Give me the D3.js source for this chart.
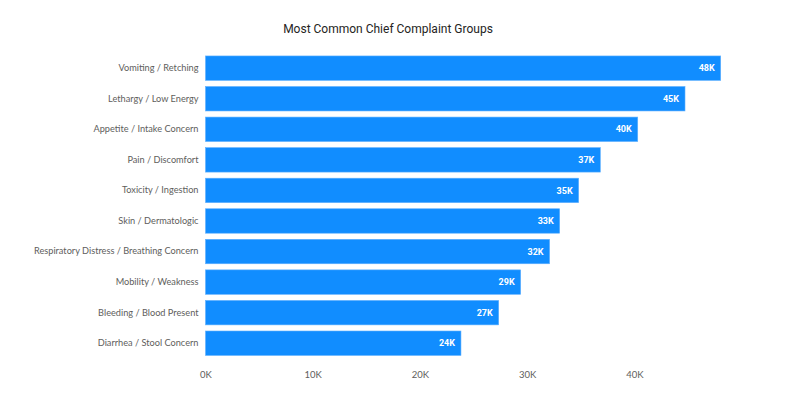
<!DOCTYPE html>
<html><head><meta charset="utf-8">
<script src="https://cdn.jsdelivr.net/npm/d3@7"></script>
<style>body{margin:0;background:#fff}svg{display:block}</style>
</head><body>
<svg id="c" width="796" height="410"></svg>
<script>
const categories = ["Vomiting / Retching","Lethargy / Low Energy","Appetite / Intake Concern","Pain / Discomfort","Toxicity / Ingestion","Skin / Dermatologic","Respiratory Distress / Breathing Concern","Mobility / Weakness","Bleeding / Blood Present","Diarrhea / Stool Concern"];
const values = [48060,44730,40320,36830,34810,33040,32100,29400,27350,23830];
const tickValues = [0,10000,20000,30000,40000];
const title = "Most Common Chief Complaint Groups";

const svg = d3.select("#c");
const font = "Lato, 'Segoe UI', sans-serif";
const x = d3.scaleLinear().domain([0,50000]).range([205.5,741.5]);
const y = d3.scaleBand().domain(categories).range([52.9,358.5]).paddingInner(0.2).paddingOuter(0.1);
const fmt = v => d3.format(".0f")(v/1000)+"K";

svg.append("text").attr("x",388).attr("y",33).attr("text-anchor","middle")
  .attr("font-family","Roboto, sans-serif").attr("font-size",12).attr("fill","#252423").text(title);

svg.selectAll("rect.bar").data(categories).join("rect").attr("class","bar")
  .attr("x",x(0)).attr("y",d=>y(d)).attr("height",y.bandwidth())
  .attr("width",(d,i)=>x(values[i])-x(0)).attr("fill","#118DFF")
  .attr("stroke","#5fb0ff").attr("stroke-width",0.6);

svg.selectAll("text.val").data(categories).join("text").attr("class","val")
  .attr("x",(d,i)=>x(values[i])-6).attr("y",d=>y(d)+y.bandwidth()/2).attr("dy","0.35em")
  .attr("text-anchor","end").attr("font-family","Roboto, sans-serif").attr("font-size",9).attr("font-weight",700)
  .attr("fill","#ffffff").text((d,i)=>fmt(values[i]));

const yAxis = svg.append("g").attr("transform",`translate(${x(0)},0)`)
  .call(d3.axisLeft(y).tickSize(0).tickPadding(7));
yAxis.select(".domain").remove();
yAxis.selectAll("text").attr("font-family",font).attr("font-size",9.2).attr("fill","#605E5C");

const xAxis = svg.append("g").attr("transform","translate(0,371)")
  .call(d3.axisBottom(x).tickValues(tickValues).tickFormat(fmt).tickSize(0).tickPadding(0));
xAxis.select(".domain").remove();
xAxis.selectAll("text").attr("font-family",font).attr("font-size",9.5).attr("fill","#605E5C").attr("dy","0.71em");
</script>
</body></html>
